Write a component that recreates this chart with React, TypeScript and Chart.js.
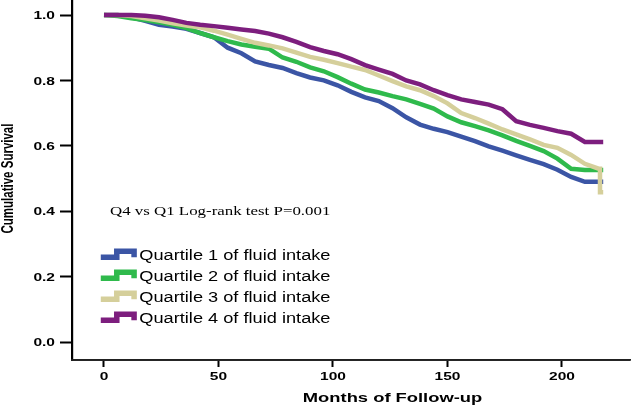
import React, { useEffect, useRef } from "react";
import { Chart, registerables } from "chart.js";

Chart.register(...registerables);

// Months of follow-up (shared time grid)
const months = [0, 6, 12, 18, 24, 30, 36, 42, 48, 54, 60, 66, 72, 78, 84, 90, 96, 102, 108, 114, 120, 126, 132, 138, 144, 150, 156, 162, 168, 174, 180, 186, 192, 198, 204, 210, 216, 216.6, 216.6, 218];

const quartile1 = [1.0, 1.0, 0.993, 0.982, 0.97, 0.965, 0.958, 0.945, 0.932, 0.9, 0.883, 0.858, 0.847, 0.838, 0.822, 0.809, 0.8, 0.785, 0.765, 0.748, 0.737, 0.715, 0.687, 0.665, 0.652, 0.642, 0.628, 0.614, 0.598, 0.585, 0.571, 0.557, 0.544, 0.527, 0.505, 0.49, 0.49, 0.49, 0.49, 0.49];
const quartile2 = [1.0, 0.997, 0.99, 0.985, 0.978, 0.97, 0.96, 0.945, 0.932, 0.92, 0.91, 0.903, 0.897, 0.87, 0.857, 0.84, 0.828, 0.81, 0.79, 0.772, 0.763, 0.752, 0.742, 0.728, 0.714, 0.69, 0.672, 0.66, 0.647, 0.632, 0.615, 0.6, 0.584, 0.561, 0.53, 0.526, 0.526, 0.526, 0.526, 0.526];
const quartile3 = [1.0, 1.0, 0.997, 0.99, 0.983, 0.975, 0.968, 0.962, 0.952, 0.94, 0.927, 0.915, 0.907, 0.898, 0.885, 0.872, 0.863, 0.853, 0.842, 0.832, 0.815, 0.798, 0.782, 0.77, 0.752, 0.73, 0.7, 0.685, 0.668, 0.65, 0.635, 0.62, 0.603, 0.594, 0.572, 0.545, 0.53, 0.53, 0.458, 0.458];
const quartile4 = [1.0, 1.0, 1.0, 0.998, 0.993, 0.985, 0.976, 0.97, 0.966, 0.961, 0.956, 0.951, 0.943, 0.932, 0.918, 0.902, 0.89, 0.88, 0.865, 0.847, 0.833, 0.82, 0.8, 0.788, 0.77, 0.755, 0.742, 0.734, 0.726, 0.712, 0.675, 0.664, 0.655, 0.645, 0.637, 0.612, 0.612, 0.612, 0.612, 0.612];

const seriesLabels = [
  "Quartile 1 of fluid intake",
  "Quartile 2 of fluid intake",
  "Quartile 3 of fluid intake",
  "Quartile 4 of fluid intake",
];
const seriesColors = ["#3b55a5", "#2fba4c", "#d5cf9b", "#7d1e7e"];

const xTicks = [0, 50, 100, 150, 200];
const yTicks = [0, 0.2, 0.4, 0.6, 0.8, 1.0];

const xTitle = "Months of Follow-up";
const yTitle = "Cumulative Survival";
const annotation = "Q4 vs Q1 Log-rank test P=0.001";

function drawStretched(ctx: CanvasRenderingContext2D, text: string, x: number, y: number, align: CanvasTextAlign, sx: number) {
  ctx.save();
  ctx.translate(x, y);
  ctx.scale(sx, 1);
  ctx.textAlign = align;
  ctx.textBaseline = "middle";
  ctx.fillText(text, 0, 0);
  ctx.restore();
}

const axisPlugin = {
  id: "kmAxes",
  afterDatasetsDraw(chart: any) {
    const ctx: CanvasRenderingContext2D = chart.ctx;
    const area = chart.chartArea;
    ctx.save();
    ctx.fillStyle = "#000000";
    ctx.fillRect(area.left - 1, 0, 2.2, area.bottom + 1);
    ctx.fillStyle = "#222222";
    ctx.fillRect(area.left - 1, area.bottom - 0.8, area.right - area.left + 1, 1.7);
    ctx.restore();
  },
};

const textPlugin = {
  id: "kmText",
  afterDraw(chart: any) {
    const ctx: CanvasRenderingContext2D = chart.ctx;
    const xs = chart.scales.x;
    const ys = chart.scales.y;
    const area = chart.chartArea;
    ctx.save();
    ctx.fillStyle = "#000000";

    // tick labels
    ctx.font = "bold 11.5px 'Liberation Sans', Arial, sans-serif";
    yTicks.forEach((v) => {
      drawStretched(ctx, v.toFixed(1), area.left - 17, ys.getPixelForValue(v) + 1, "right", 1.35);
    });
    xTicks.forEach((v) => {
      drawStretched(ctx, String(v), xs.getPixelForValue(v), area.bottom + 17, "center", 1.35);
    });

    // x title
    ctx.font = "bold 13.5px 'Liberation Sans', Arial, sans-serif";
    drawStretched(ctx, xTitle, xs.getPixelForValue(126), area.bottom + 38, "center", 1.36);

    // y title (rotated)
    ctx.font = "bold 11.5px 'Liberation Sans', Arial, sans-serif";
    ctx.save();
    ctx.translate(9, ys.getPixelForValue(0.5));
    ctx.scale(1.4, 1);
    ctx.rotate(-Math.PI / 2);
    ctx.textAlign = "center";
    ctx.textBaseline = "middle";
    ctx.fillText(yTitle, 0, 0);
    ctx.restore();

    // annotation
    ctx.font = "13.5px 'Liberation Serif', 'Times New Roman', serif";
    drawStretched(ctx, annotation, xs.getPixelForValue(2.6), ys.getPixelForValue(0.4), "left", 1.25);

    // legend
    const legendX = xs.getPixelForValue(-1.4);
    const rowTop = ys.getPixelForValue(0.4) + 44.5;
    const rowGap = 21;
    chart.data.datasets.forEach((ds: any, i: number) => {
      const c = rowTop + i * rowGap;
      ctx.save();
      ctx.strokeStyle = ds.borderColor;
      ctx.lineWidth = 5.5;
      ctx.lineJoin = "miter";
      ctx.lineCap = "butt";
      ctx.beginPath();
      ctx.moveTo(legendX, c + 1.5);
      ctx.lineTo(legendX + 16, c + 1.5);
      ctx.lineTo(legendX + 16, c - 4.5);
      ctx.lineTo(legendX + 33.3, c - 4.5);
      ctx.lineTo(legendX + 33.3, c + 1.6);
      ctx.stroke();
      ctx.restore();
      ctx.fillStyle = "#000000";
      ctx.font = "14px 'Liberation Sans', Arial, sans-serif";
      drawStretched(ctx, ds.label, legendX + 38.5, c, "left", 1.3);
    });
    ctx.restore();
  },
};

export default function App() {
  const ref = useRef<HTMLCanvasElement | null>(null);
  useEffect(() => {
    if (!ref.current) return;
    const series = [quartile1, quartile2, quartile3, quartile4];
    const chart = new Chart(ref.current, {
      type: "line",
      data: {
        datasets: series.map((s, i) => ({
          label: seriesLabels[i],
          data: months.map((m, j) => ({ x: m, y: s[j] })),
          borderColor: seriesColors[i],
          backgroundColor: seriesColors[i],
          borderWidth: 4.5,
          pointRadius: 0,
          fill: false,
          stepped: false,
          tension: 0,
          borderJoinStyle: "miter",
          borderCapStyle: "butt",
          order: 3 - i,
        })),
      },
      options: {
        animation: false,
        responsive: false,
        events: [],
        layout: { padding: { top: 0, right: 3, bottom: 0, left: 0 } },
        plugins: { legend: { display: false }, tooltip: { enabled: false } },
        scales: {
          x: {
            type: "linear",
            min: -13.97,
            max: 229.7,
            afterBuildTicks: (scale: any) => {
              scale.ticks = xTicks.map((v) => ({ value: v }));
            },
            afterFit: (scale: any) => {
              scale.height = 46;
            },
            ticks: { display: false },
            grid: {
              display: true,
              drawOnChartArea: false,
              drawTicks: true,
              tickLength: 7,
              tickWidth: 2,
              tickColor: "#000",
              color: "#000",
            },
            border: { display: true, color: "#222", width: 1.7 },
          },
          y: {
            type: "linear",
            min: -0.055,
            max: 1.0459,
            afterBuildTicks: (scale: any) => {
              scale.ticks = yTicks.map((v) => ({ value: v }));
            },
            afterFit: (scale: any) => {
              scale.width = 72;
            },
            ticks: { display: false },
            grid: {
              display: true,
              drawOnChartArea: false,
              drawTicks: true,
              tickLength: 12,
              tickWidth: 2,
              tickColor: "#000",
              color: "#000",
            },
            border: { display: true, color: "#000", width: 2 },
          },
        },
      },
      plugins: [axisPlugin, textPlugin],
    } as any);
    return () => chart.destroy();
  }, []);
  return (
    <div style={{ position: "absolute", left: 0, top: 0, width: 633, height: 406, background: "#fff" }}>
      <canvas ref={ref} width={633} height={406} style={{ display: "block" }} />
    </div>
  );
}
